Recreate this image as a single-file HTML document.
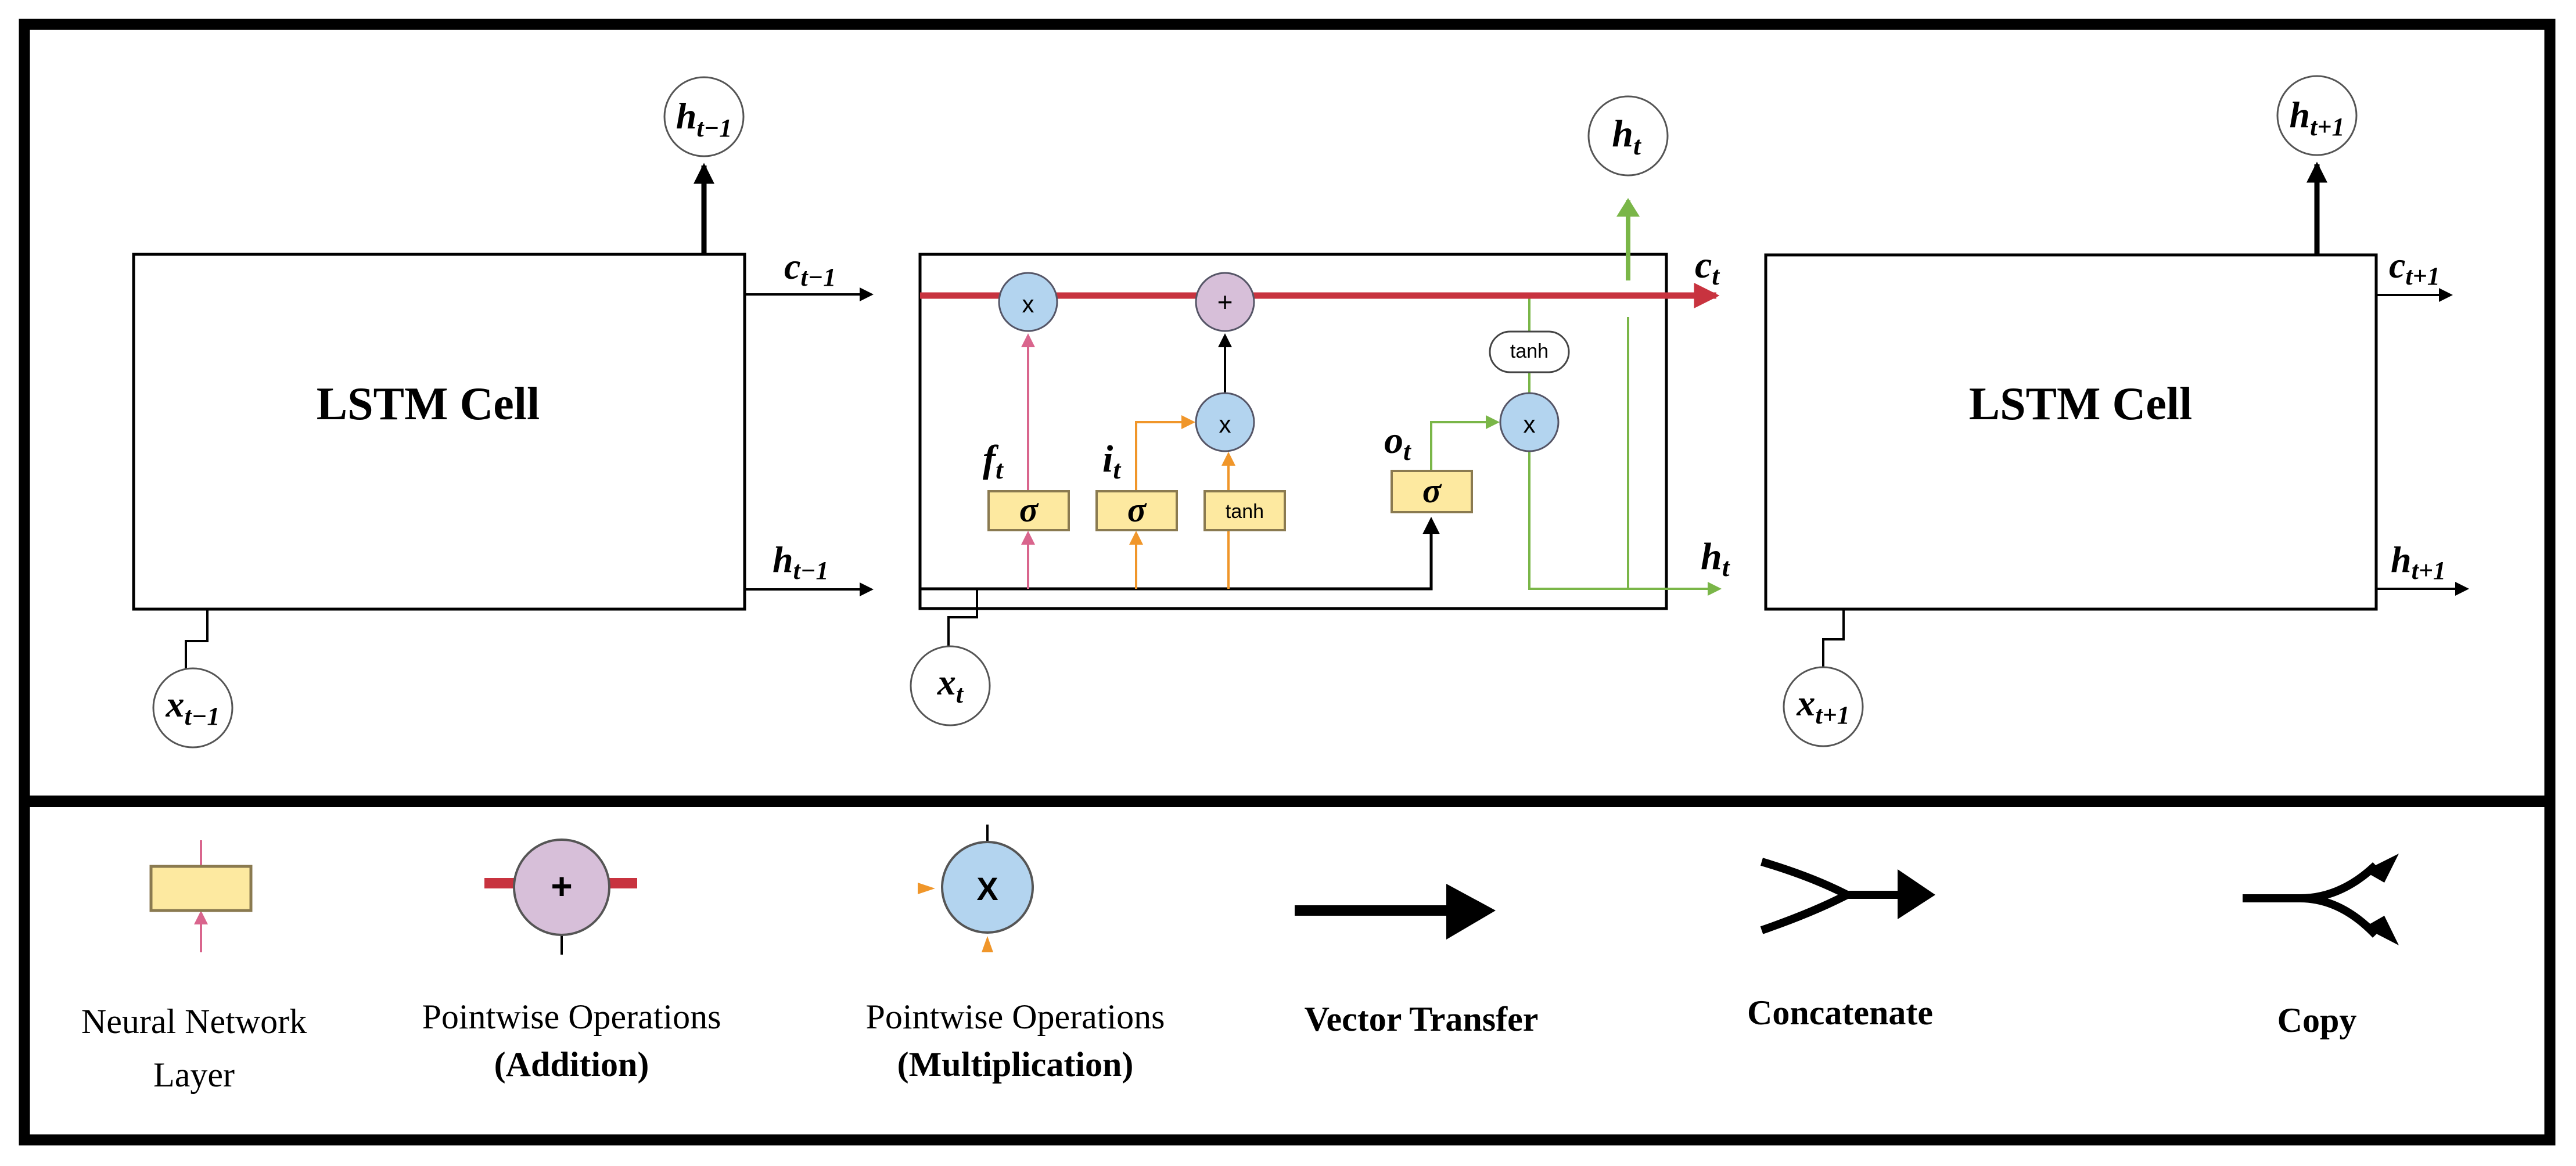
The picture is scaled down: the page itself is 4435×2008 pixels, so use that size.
<!DOCTYPE html>
<html><head><meta charset="utf-8"><style>
html,body{margin:0;padding:0;background:#fff;}
svg{display:block;}
text{font-family:"Liberation Serif",serif;}
.m{font-style:italic;font-weight:bold;}
</style></head><body>
<svg width="4435" height="2008" viewBox="0 0 4435 2008" xmlns="http://www.w3.org/2000/svg">
<defs>
<marker id="ak" markerWidth="6" markerHeight="6" refX="5" refY="3" orient="auto" markerUnits="strokeWidth"><path d="M0,0 L6,3 L0,6 z" fill="#000"/></marker>
<marker id="ab" markerWidth="4" markerHeight="4" refX="3.5" refY="2" orient="auto" markerUnits="strokeWidth"><path d="M0,0 L4,2 L0,4 z" fill="#000"/></marker>
<marker id="ar" markerWidth="4" markerHeight="4" refX="3.5" refY="2" orient="auto" markerUnits="strokeWidth"><path d="M0,0 L4,2 L0,4 z" fill="#c8333f"/></marker>
<marker id="ap" markerWidth="6" markerHeight="6" refX="5" refY="3" orient="auto" markerUnits="strokeWidth"><path d="M0,0 L6,3 L0,6 z" fill="#d9658d"/></marker>
<marker id="ao" markerWidth="6" markerHeight="6" refX="5" refY="3" orient="auto" markerUnits="strokeWidth"><path d="M0,0 L6,3 L0,6 z" fill="#f0962a"/></marker>
<marker id="ag" markerWidth="6" markerHeight="6" refX="5" refY="3" orient="auto" markerUnits="strokeWidth"><path d="M0,0 L6,3 L0,6 z" fill="#7ab648"/></marker>
<marker id="agb" markerWidth="4" markerHeight="5" refX="3.5" refY="2.5" orient="auto" markerUnits="strokeWidth"><path d="M0,0 L4,2.5 L0,5 z" fill="#7ab648"/></marker>
</defs>
<rect x="0" y="0" width="4435" height="2008" fill="#fff"/>
<!-- outer frame -->
<rect x="42" y="42" width="4348" height="1921" fill="none" stroke="#000" stroke-width="19"/>
<rect x="42" y="1370" width="4348" height="20" fill="#000"/>

<!-- LEFT CELL -->
<rect x="230" y="438" width="1052" height="611" fill="#fff" stroke="#000" stroke-width="5"/>
<text x="737" y="722" font-size="80" font-weight="bold" text-anchor="middle">LSTM Cell</text>
<line x1="1212" y1="438" x2="1212" y2="285" stroke="#000" stroke-width="9" marker-end="url(#ab)"/>
<circle cx="1212" cy="201" r="68" fill="#fff" stroke="#555" stroke-width="3"/>
<text x="1212" y="221" font-size="64" text-anchor="middle" class="m">h<tspan font-size="44" dy="14">t−1</tspan></text>
<line x1="1282" y1="507" x2="1500" y2="507" stroke="#000" stroke-width="4" marker-end="url(#ak)"/>
<text x="1350" y="480" font-size="64" class="m">c<tspan font-size="44" dy="12">t−1</tspan></text>
<line x1="1282" y1="1015" x2="1500" y2="1015" stroke="#000" stroke-width="4" marker-end="url(#ak)"/>
<text x="1330" y="985" font-size="64" class="m">h<tspan font-size="44" dy="12">t−1</tspan></text>
<polyline points="357,1049 357,1104 320,1104 320,1151" fill="none" stroke="#000" stroke-width="4"/>
<circle cx="332" cy="1219" r="68" fill="#fff" stroke="#555" stroke-width="3"/>
<text x="332" y="1234" font-size="64" text-anchor="middle" class="m">x<tspan font-size="44" dy="14">t−1</tspan></text>

<!-- MIDDLE CELL -->
<rect x="1584" y="438" width="1285" height="610" fill="#fff" stroke="#000" stroke-width="5"/>
<!-- black h line -->
<polyline points="1584,1014 2464,1014 2464,895" fill="none" stroke="#000" stroke-width="5" marker-end="url(#ak)"/>
<!-- x_t connector -->
<polyline points="1682,1014 1682,1063 1633,1063 1633,1113" fill="none" stroke="#000" stroke-width="4"/>
<circle cx="1636" cy="1181" r="68" fill="#fff" stroke="#555" stroke-width="3"/>
<text x="1636" y="1196" font-size="64" text-anchor="middle" class="m">x<tspan font-size="44" dy="14">t</tspan></text>
<!-- pink forget -->
<line x1="1770" y1="1014" x2="1770" y2="918" stroke="#d9658d" stroke-width="4" marker-end="url(#ap)"/>
<line x1="1770" y1="846" x2="1770" y2="578" stroke="#d9658d" stroke-width="4" marker-end="url(#ap)"/>
<!-- orange -->
<line x1="1956" y1="1014" x2="1956" y2="918" stroke="#f0962a" stroke-width="4" marker-end="url(#ao)"/>
<polyline points="1956,846 1956,727 2054,727" fill="none" stroke="#f0962a" stroke-width="4" marker-end="url(#ao)"/>
<line x1="2115" y1="1014" x2="2115" y2="913" stroke="#f0962a" stroke-width="4"/>
<line x1="2115" y1="846" x2="2115" y2="782" stroke="#f0962a" stroke-width="4" marker-end="url(#ao)"/>
<line x1="2109" y1="677" x2="2109" y2="578" stroke="#000" stroke-width="4" marker-end="url(#ak)"/>
<!-- green -->
<polyline points="2464,811 2464,727 2578,727" fill="none" stroke="#7ab648" stroke-width="4" marker-end="url(#ag)"/>
<line x1="2633" y1="509" x2="2633" y2="677" stroke="#7ab648" stroke-width="4"/>
<polyline points="2633,777 2633,1014 2960,1014" fill="none" stroke="#7ab648" stroke-width="4" marker-end="url(#ag)"/>
<line x1="2803" y1="1014" x2="2803" y2="546" stroke="#7ab648" stroke-width="4"/>
<line x1="2803" y1="483" x2="2803" y2="345" stroke="#7ab648" stroke-width="8" marker-end="url(#agb)"/>
<!-- red cell state -->
<line x1="1584" y1="509" x2="2955" y2="509" stroke="#c8333f" stroke-width="11" marker-end="url(#ar)"/>
<!-- ops -->
<circle cx="1770" cy="520" r="50" fill="#b3d4ef" stroke="#556" stroke-width="3"/>
<text x="1770" y="538" font-family="Liberation Sans" font-size="42" text-anchor="middle" style="font-family:'Liberation Sans',sans-serif">x</text>
<circle cx="2109" cy="520" r="50" fill="#d7bfd9" stroke="#556" stroke-width="3"/>
<text x="2109" y="536" font-size="46" text-anchor="middle" style="font-family:'Liberation Sans',sans-serif">+</text>
<circle cx="2109" cy="727" r="50" fill="#b3d4ef" stroke="#556" stroke-width="3"/>
<text x="2109" y="745" font-size="42" text-anchor="middle" style="font-family:'Liberation Sans',sans-serif">x</text>
<circle cx="2633" cy="727" r="50" fill="#b3d4ef" stroke="#556" stroke-width="3"/>
<text x="2633" y="745" font-size="42" text-anchor="middle" style="font-family:'Liberation Sans',sans-serif">x</text>
<rect x="2565" y="571" width="136" height="70" rx="35" fill="#fff" stroke="#444" stroke-width="3"/>
<text x="2633" y="616" font-size="34" text-anchor="middle" style="font-family:'Liberation Sans',sans-serif">tanh</text>
<!-- gates -->
<rect x="1702" y="846" width="138" height="67" fill="#fde9a0" stroke="#8a7a50" stroke-width="4"/>
<text x="1771" y="898" font-size="60" text-anchor="middle" class="m">σ</text>
<rect x="1888" y="846" width="138" height="67" fill="#fde9a0" stroke="#8a7a50" stroke-width="4"/>
<text x="1957" y="898" font-size="60" text-anchor="middle" class="m">σ</text>
<rect x="2074" y="846" width="138" height="67" fill="#fde9a0" stroke="#8a7a50" stroke-width="4"/>
<text x="2143" y="892" font-size="34" text-anchor="middle" style="font-family:'Liberation Sans',sans-serif">tanh</text>
<rect x="2396" y="811" width="138" height="71" fill="#fde9a0" stroke="#8a7a50" stroke-width="4"/>
<text x="2465" y="865" font-size="60" text-anchor="middle" class="m">σ</text>
<text x="1692" y="812" font-size="66" class="m">f<tspan font-size="46" dy="12">t</tspan></text>
<text x="1898" y="812" font-size="66" class="m">i<tspan font-size="46" dy="12">t</tspan></text>
<text x="2383" y="780" font-size="66" class="m">o<tspan font-size="46" dy="12">t</tspan></text>
<text x="2918" y="478" font-size="66" class="m">c<tspan font-size="46" dy="12">t</tspan></text>
<text x="2928" y="980" font-size="66" class="m">h<tspan font-size="46" dy="12">t</tspan></text>
<circle cx="2803" cy="234" r="68" fill="#fff" stroke="#555" stroke-width="3"/>
<text x="2800" y="252" font-size="66" text-anchor="middle" class="m">h<tspan font-size="46" dy="14">t</tspan></text>

<!-- RIGHT CELL -->
<rect x="3040" y="439" width="1051" height="610" fill="#fff" stroke="#000" stroke-width="5"/>
<text x="3582" y="722" font-size="80" font-weight="bold" text-anchor="middle">LSTM Cell</text>
<line x1="3989" y1="439" x2="3989" y2="283" stroke="#000" stroke-width="9" marker-end="url(#ab)"/>
<circle cx="3989" cy="199" r="68" fill="#fff" stroke="#555" stroke-width="3"/>
<text x="3989" y="219" font-size="64" text-anchor="middle" class="m">h<tspan font-size="44" dy="14">t+1</tspan></text>
<line x1="4091" y1="508" x2="4219" y2="508" stroke="#000" stroke-width="4" marker-end="url(#ak)"/>
<text x="4113" y="478" font-size="64" class="m">c<tspan font-size="44" dy="12">t+1</tspan></text>
<line x1="4091" y1="1014" x2="4247" y2="1014" stroke="#000" stroke-width="4" marker-end="url(#ak)"/>
<text x="4116" y="985" font-size="64" class="m">h<tspan font-size="44" dy="12">t+1</tspan></text>
<polyline points="3174,1049 3174,1101 3139,1101 3139,1150" fill="none" stroke="#000" stroke-width="4"/>
<circle cx="3139" cy="1217" r="68" fill="#fff" stroke="#555" stroke-width="3"/>
<text x="3139" y="1232" font-size="64" text-anchor="middle" class="m">x<tspan font-size="44" dy="14">t+1</tspan></text>

<!-- LEGEND -->
<line x1="346" y1="1447" x2="346" y2="1492" stroke="#d9658d" stroke-width="4"/>
<line x1="346" y1="1640" x2="346" y2="1572" stroke="#d9658d" stroke-width="4" marker-end="url(#ap)"/>
<rect x="260" y="1492" width="172" height="76" fill="#fde9a0" stroke="#8a7a50" stroke-width="5"/>

<rect x="834" y="1512" width="263" height="18" fill="#c8333f"/>
<line x1="967" y1="1600" x2="967" y2="1644" stroke="#000" stroke-width="4"/>
<circle cx="967" cy="1528" r="82" fill="#d7bfd9" stroke="#555" stroke-width="4"/>
<text x="967" y="1548" font-size="64" font-weight="bold" text-anchor="middle" style="font-family:'Liberation Sans',sans-serif">+</text>

<line x1="1700" y1="1420" x2="1700" y2="1450" stroke="#000" stroke-width="4"/>
<path d="M1580,1520 L1610,1530 L1580,1540 z" fill="#f0962a"/>
<path d="M1690,1640 L1700,1612 L1710,1640 z" fill="#f0962a"/>
<circle cx="1700" cy="1528" r="78" fill="#b3d4ef" stroke="#555" stroke-width="4"/>
<text x="1700" y="1550" font-size="56" font-weight="bold" text-anchor="middle" style="font-family:'Liberation Sans',sans-serif">X</text>

<line x1="2229" y1="1568" x2="2500" y2="1568" stroke="#000" stroke-width="18"/>
<path d="M2490,1522 L2575,1568 L2490,1618 z" fill="#000"/>

<path d="M3033,1484 Q3120,1510 3180,1541 M3033,1602 Q3120,1572 3180,1541 L3275,1541" fill="none" stroke="#000" stroke-width="14"/>
<path d="M3267,1497 L3332,1541 L3267,1583 z" fill="#000"/>

<path d="M3861,1547 L3960,1547 Q4030,1547 4090,1490 M3960,1547 Q4030,1547 4090,1610" fill="none" stroke="#000" stroke-width="14"/>
<path d="M4070,1500 L4130,1470 L4105,1520 z" fill="#000"/>
<path d="M4070,1597 L4130,1628 L4105,1577 z" fill="#000"/>

<g font-size="60" text-anchor="middle">
<text x="334" y="1779">Neural Network</text>
<text x="334" y="1871">Layer</text>
<text x="984" y="1771">Pointwise Operations</text>
<text x="984" y="1853" font-weight="bold">(Addition)</text>
<text x="1748" y="1771">Pointwise Operations</text>
<text x="1748" y="1853" font-weight="bold">(Multiplication)</text>
<text x="2447" y="1775" font-weight="bold">Vector Transfer</text>
<text x="3168" y="1764" font-weight="bold">Concatenate</text>
<text x="3989" y="1777" font-weight="bold">Copy</text>
</g>
</svg>
</body></html>
